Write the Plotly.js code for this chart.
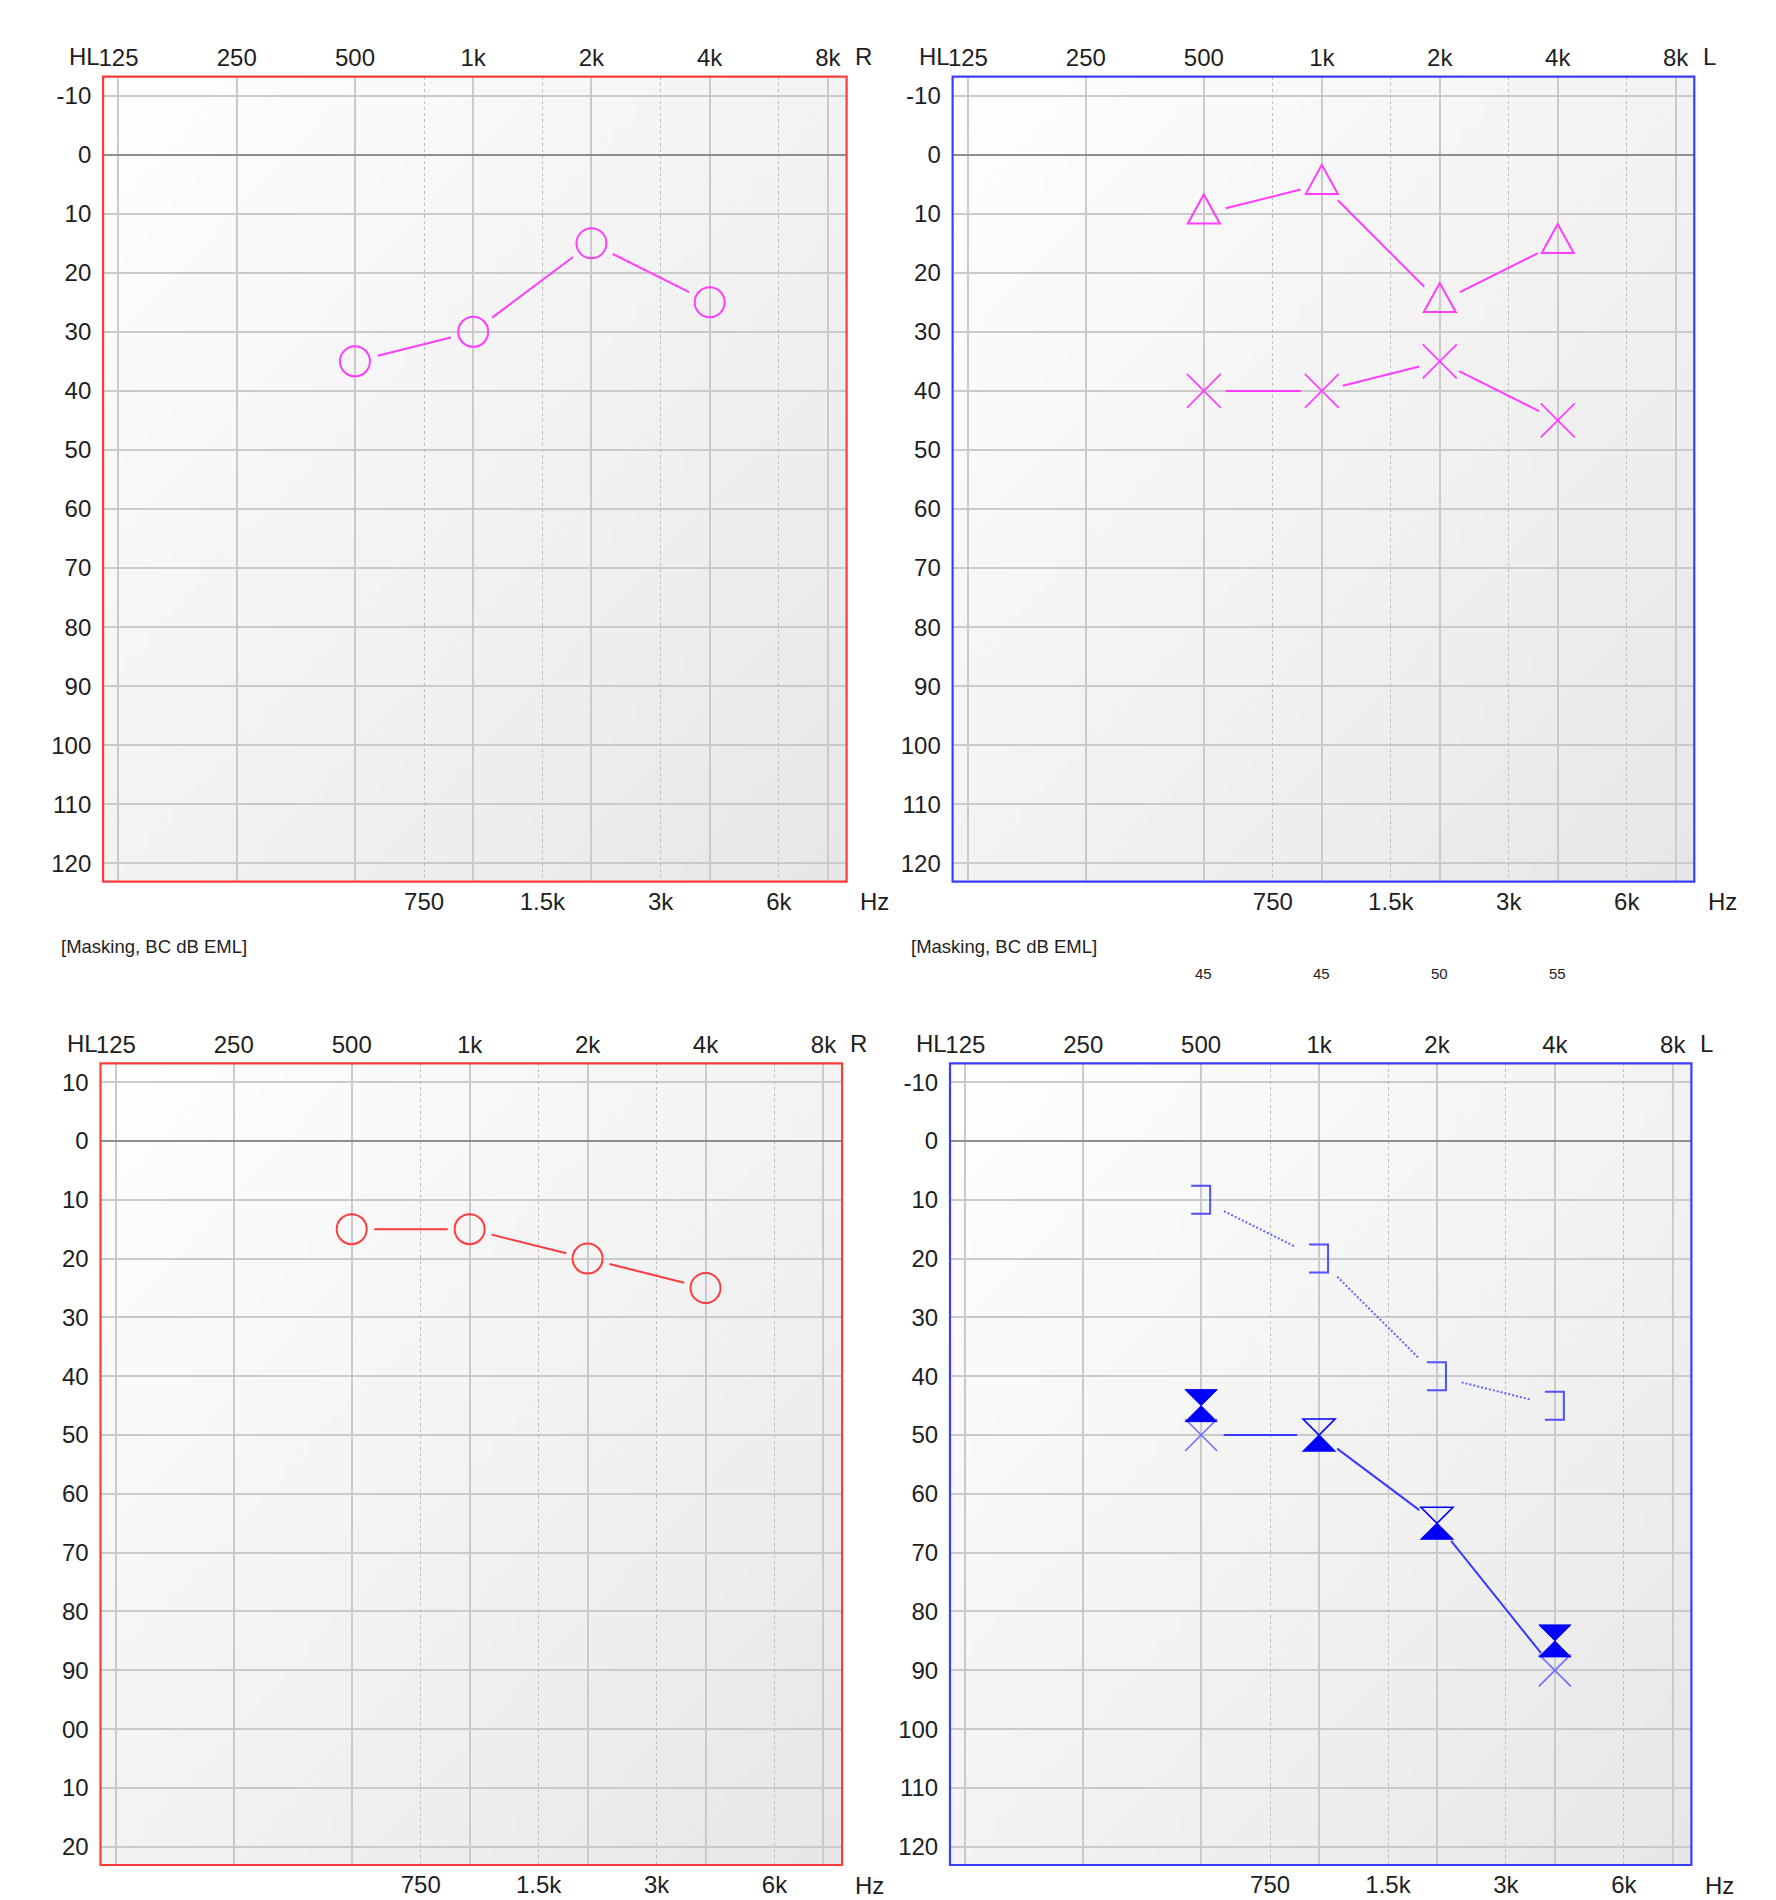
<!DOCTYPE html>
<html>
<head>
<meta charset="utf-8">
<script src="https://cdn.plot.ly/plotly-3.0.1.min.js"></script>
<style>
html,body{margin:0;padding:0;background:#ffffff;}
#chart{width:1776px;height:1900px;}
</style>
</head>
<body>
<div id="chart"></div>
<script>
// ---------------- data ----------------
const testFreqs = [500, 1000, 2000, 4000];
const octaveFreqs = [125, 250, 500, 1000, 2000, 4000, 8000];
const octaveLabels = ["125", "250", "500", "1k", "2k", "4k", "8k"];
const midFreqs = [750, 1500, 3000, 6000];
const midLabels = ["750", "1.5k", "3k", "6k"];
const dbTicks = [-10, 0, 10, 20, 30, 40, 50, 60, 70, 80, 90, 100, 110, 120];
const dbLabels = ["-10", "0", "10", "20", "30", "40", "50", "60", "70", "80", "90", "100", "110", "120"];
const dbLabelsClipped = ["10", "0", "10", "20", "30", "40", "50", "60", "70", "80", "90", "00", "10", "20"];

// top-left panel (right ear)
const rightCircles1 = [35, 30, 15, 25];
// top-right panel (left ear)
const leftTriangles2 = [10, 5, 25, 15];
const leftCrosses2 = [40, 40, 35, 45];
const maskingBC2 = [45, 45, 50, 55];
// bottom-left panel (right ear)
const rightCircles3 = [15, 15, 20, 25];
// bottom-right panel (left ear)
const leftBrackets4 = [10, 20, 40, 45];
const leftCrosses4 = [50, null, null, 90];
const leftHalfHourglass4 = [null, 50, 65, null];
const leftHourglass4 = [45, null, null, 85];

// ---------------- helpers / styles ----------------
const lx = f => Math.log2(f);
const W = 1776, H = 1900;
const xRange = [lx(125) - 0.13, lx(8000) + 0.158];
const yRange = [123.1, -13.2];
const FONT = 'Liberation Sans, Arial, sans-serif';
const TXT = '#1e1e1e';
const GRID = '#cacaca';
const TICKFONT = {family: FONT, size: 24, color: TXT};
const MAG = '#ff3cff';
const RED = '#ff3c3c';
const BLUE = '#0000ff';
const BLUE_LINE = '#3a3aff';
const BLUE_X = '#6e6eff';
const BLUE_BR = '#5050ff';

const panels = [
  {n: 1, box: {l: 103.1, r: 846.6, t: 76.7, b: 881.7}, frame: '#ff3c3c', ear: 'R', yText: dbLabels, masking: true},
  {n: 2, box: {l: 952.6, r: 1694.3, t: 76.7, b: 881.7}, frame: '#3c3cff', ear: 'L', yText: dbLabels, masking: true},
  {n: 3, box: {l: 100.5, r: 842.1, t: 1063.3, b: 1865}, frame: '#ff3c3c', ear: 'R', yText: dbLabelsClipped, masking: false},
  {n: 4, box: {l: 950, r: 1691.4, t: 1063.3, b: 1865}, frame: '#3c3cff', ear: 'L', yText: dbLabels, masking: false}
];

function gradientURL() {
  const c = document.createElement('canvas');
  c.width = 256; c.height = 256;
  const g = c.getContext('2d');
  const gr = g.createLinearGradient(0, 0, 256, 256);
  gr.addColorStop(0, '#ffffff');
  gr.addColorStop(1, '#e7e7e7');
  g.fillStyle = gr;
  g.fillRect(0, 0, 256, 256);
  return c.toDataURL('image/png');
}
const bgURL = gradientURL();

const layout = {
  width: W, height: H,
  margin: {l: 0, r: 0, t: 0, b: 0},
  paper_bgcolor: '#ffffff',
  plot_bgcolor: 'rgba(0,0,0,0)',
  showlegend: false,
  shapes: [], annotations: [], images: []
};
const traces = [];
const dottedIdx = [];

panels.forEach(p => {
  const sfx = p.n === 1 ? '' : String(p.n);
  const xid = 'x' + sfx, yid = 'y' + sfx;
  const xo = 'x' + (p.n + 4);
  const b = p.box;
  layout['xaxis' + sfx] = {
    domain: [b.l / W, b.r / W], range: xRange, anchor: yid, side: 'top',
    tickmode: 'array', tickvals: octaveFreqs.map(lx), ticktext: octaveLabels,
    ticks: '', ticklabelstandoff: 5,
    showgrid: true, gridcolor: GRID, gridwidth: 2, zeroline: false, showline: false,
    tickfont: TICKFONT, fixedrange: true
  };
  layout['xaxis' + (p.n + 4)] = {
    overlaying: xid, anchor: yid, side: 'bottom', range: xRange,
    tickmode: 'array', tickvals: midFreqs.map(lx), ticktext: midLabels,
    ticks: '', ticklabelstandoff: 3,
    showgrid: true, gridcolor: '#bcbcbc', gridwidth: 1, griddash: 'dot',
    zeroline: false, showline: false, tickfont: TICKFONT, fixedrange: true
  };
  layout['yaxis' + sfx] = {
    domain: [1 - b.b / H, 1 - b.t / H], range: yRange, anchor: xid,
    tickmode: 'array', tickvals: dbTicks, ticktext: p.yText,
    ticks: 'outside', ticklen: 6, tickcolor: 'rgba(0,0,0,0)',
    showgrid: true, gridcolor: GRID, gridwidth: 2,
    zeroline: true, zerolinecolor: '#8e8e8e', zerolinewidth: 2,
    showline: false, tickfont: TICKFONT, fixedrange: true
  };
  // register overlay axis
  traces.push({x: midFreqs.map(lx), y: midFreqs.map(() => null), xaxis: xo, yaxis: yid,
    mode: 'markers', hoverinfo: 'skip', showlegend: false});
  // gradient background
  layout.images.push({source: bgURL, xref: 'paper', yref: 'paper',
    x: b.l / W, y: 1 - b.t / H, sizex: (b.r - b.l) / W, sizey: (b.b - b.t) / H,
    xanchor: 'left', yanchor: 'top', sizing: 'stretch', layer: 'below'});
  // frame
  layout.shapes.push({type: 'rect', xref: 'paper', yref: 'paper',
    x0: b.l / W, x1: b.r / W, y0: 1 - b.b / H, y1: 1 - b.t / H,
    line: {color: p.frame, width: 2.2}, fillcolor: 'rgba(0,0,0,0)', layer: 'above'});
  // text labels
  const topY = 1 - b.t / H, botY = 1 - b.b / H;
  layout.annotations.push({text: 'HL', showarrow: false, xref: xid, x: lx(octaveFreqs[0]), xshift: -16,
    xanchor: 'right', yref: 'paper', y: topY, yshift: 20, yanchor: 'middle', font: TICKFONT});
  layout.annotations.push({text: p.ear, showarrow: false, xref: xid, x: lx(octaveFreqs[octaveFreqs.length - 1]), xshift: 25,
    xanchor: 'left', yref: 'paper', y: topY, yshift: 20, yanchor: 'middle', font: TICKFONT});
  layout.annotations.push({text: 'Hz', showarrow: false, xref: xid, x: lx(octaveFreqs[octaveFreqs.length - 1]), xshift: 30,
    xanchor: 'left', yref: 'paper', y: botY, yshift: -20, yanchor: 'middle', font: TICKFONT});
  if (p.masking) {
    layout.annotations.push({text: '[Masking, BC dB EML]', showarrow: false, xref: 'paper', x: (b.l - 44) / W,
      xanchor: 'left', yref: 'paper', y: 1 - 946 / H, yanchor: 'middle',
      font: {family: FONT, size: 18.5, color: TXT}});
  }
});

// connecting line segments with gaps (annotation arrows with standoff)
function connect(fs, vs, xid, yid, color, gap, dotted) {
  let prev = null;
  fs.forEach((f, i) => {
    if (vs[i] === null || vs[i] === undefined) return;
    if (prev !== null) {
      if (dotted) dottedIdx.push(layout.annotations.length);
      layout.annotations.push({
        text: '', showarrow: true, arrowhead: 0, arrowwidth: 2, arrowcolor: color,
        xref: xid, yref: yid, axref: xid, ayref: yid,
        x: lx(f), y: vs[i], ax: lx(fs[prev]), ay: vs[prev],
        standoff: gap, startstandoff: gap, borderpad: 0, font: {size: 1}
      });
    }
    prev = i;
  });
}

// pixel-sized path marks anchored at data points
function pathMarks(fs, vs, xid, yid, path, lineColor, fill, width) {
  fs.forEach((f, i) => {
    if (vs[i] === null || vs[i] === undefined) return;
    layout.shapes.push({type: 'path', xref: xid, yref: yid, xsizemode: 'pixel', ysizemode: 'pixel',
      xanchor: lx(f), yanchor: vs[i], path: path,
      line: {color: lineColor, width: width}, fillcolor: fill, layer: 'above'});
  });
}

// ---- panel 1 ----
connect(testFreqs, rightCircles1, 'x', 'y', MAG, 23, false);
traces.push({x: testFreqs.map(lx), y: rightCircles1, xaxis: 'x', yaxis: 'y', mode: 'markers',
  marker: {symbol: 'circle-open', size: 30, color: MAG, line: {width: 2, color: MAG}}});

// ---- panel 2 ----
connect(testFreqs, leftTriangles2, 'x2', 'y2', MAG, 22, false);
connect(testFreqs, leftCrosses2, 'x2', 'y2', MAG, 21, false);
pathMarks(testFreqs, leftTriangles2, 'x2', 'y2', 'M-16,-9.7L16,-9.7L0,19.3Z', MAG, 'rgba(0,0,0,0)', 2);
traces.push({x: testFreqs.map(lx), y: leftCrosses2, xaxis: 'x2', yaxis: 'y2', mode: 'markers',
  marker: {symbol: 'x-thin-open', size: 34, color: MAG, line: {width: 1.6, color: MAG}}});
testFreqs.forEach((f, i) => {
  layout.annotations.push({text: String(maskingBC2[i]), showarrow: false, xref: 'x2', x: lx(f),
    xanchor: 'center', yref: 'paper', y: 1 - 973 / H, yanchor: 'middle',
    font: {family: FONT, size: 15, color: '#222222'}});
});

// ---- panel 3 ----
connect(testFreqs, rightCircles3, 'x3', 'y3', RED, 22, false);
traces.push({x: testFreqs.map(lx), y: rightCircles3, xaxis: 'x3', yaxis: 'y3', mode: 'markers',
  marker: {symbol: 'circle-open', size: 30, color: RED, line: {width: 2, color: RED}}});

// ---- panel 4 ----
const leftThreshold4 = testFreqs.map((f, i) => leftCrosses4[i] !== null ? leftCrosses4[i] : leftHalfHourglass4[i]);
connect(testFreqs, leftBrackets4, 'x4', 'y4', '#6262ff', 25, true);
connect(testFreqs, leftThreshold4, 'x4', 'y4', BLUE_LINE, 22, false);
pathMarks(testFreqs, leftBrackets4, 'x4', 'y4', 'M-10,14L9,14L9,-14L-10,-14', BLUE_BR, 'rgba(0,0,0,0)', 2);
traces.push({x: testFreqs.map(lx), y: leftCrosses4, xaxis: 'x4', yaxis: 'y4', mode: 'markers',
  marker: {symbol: 'x-thin-open', size: 32, color: BLUE_X, line: {width: 1.6, color: BLUE_X}}});
traces.push({x: testFreqs.map(lx), y: leftHourglass4, xaxis: 'x4', yaxis: 'y4', mode: 'markers',
  marker: {symbol: 'hourglass', size: 32, color: BLUE, line: {width: 1, color: BLUE}}});
pathMarks(testFreqs, leftHalfHourglass4, 'x4', 'y4', 'M-16,16L16,16L0,0Z', BLUE, 'rgba(0,0,0,0)', 1.6);
pathMarks(testFreqs, leftHalfHourglass4, 'x4', 'y4', 'M0,0L16,-16L-16,-16Z', BLUE, BLUE, 1.2);

traces.forEach(t => { t.showlegend = false; t.hoverinfo = 'skip'; });

function makeDotted() {
  dottedIdx.forEach(i => {
    document.querySelectorAll('g.annotation[data-index="' + i + '"] .annotation-arrow-g path').forEach(el => {
      const L = el.getTotalLength();
      const a = layout.annotations[i];
      const s = a.startstandoff, e = a.standoff;
      const seg = L - s - e;
      if (seg <= 0) { el.style.strokeDasharray = '0,' + (L + 10); return; }
      const d = 2, g = 2;
      const n = Math.max(1, Math.floor((seg + g) / (d + g)));
      const arr = [0, s];
      for (let k = 0; k < n; k++) { arr.push(d); arr.push(k === n - 1 ? L + 100 : g); }
      el.style.strokeDasharray = arr.map(v => v + 'px').join(',');
      el.style.strokeWidth = '2px';
    });
  });
}

Plotly.newPlot('chart', traces, layout, {displayModeBar: false, staticPlot: true}).then(() => {
  makeDotted();
  setTimeout(makeDotted, 50);
});
</script>
</body>
</html>
